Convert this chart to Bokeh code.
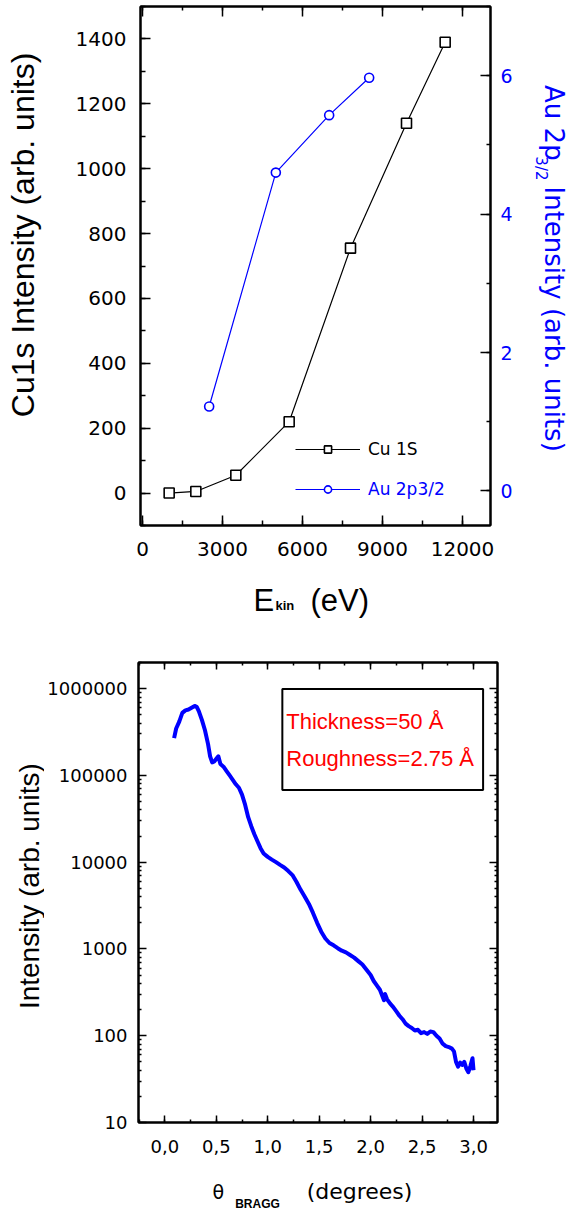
import math
from bokeh.plotting import figure
from bokeh.models import (Range1d, LinearAxis, LogAxis, SingleIntervalTicker, FixedTicker,
                          Legend, LegendItem, Label, BoxAnnotation)
from bokeh.layouts import column, row
from bokeh.embed import file_html
from bokeh.resources import INLINE

# ---------------- data: top chart ----------------
ekin_cu = [1000, 2000, 3500, 5500, 7800, 9900, 11350]
cu1s_intensity = [0, 5, 55, 220, 755, 1140, 1390]
ekin_au = [2500, 5000, 7000, 8500]
au2p_intensity = [1.22, 4.6, 5.43, 5.97]

# ---------------- data: bottom chart ----------------
theta_bragg = [0.09, 0.11, 0.14, 0.17, 0.20, 0.23, 0.26, 0.29, 0.31, 0.33,
               0.36, 0.39, 0.42, 0.44, 0.46, 0.48, 0.50, 0.52, 0.54, 0.57,
               0.60, 0.63, 0.66, 0.69, 0.72, 0.75, 0.78, 0.81, 0.84, 0.87,
               0.90, 0.93, 0.96, 1.00, 1.04, 1.08, 1.12, 1.16, 1.20, 1.24,
               1.28, 1.32, 1.36, 1.40, 1.44, 1.48, 1.52, 1.56, 1.60, 1.64,
               1.68, 1.72, 1.76, 1.80, 1.84, 1.88, 1.92, 1.96, 2.00, 2.03,
               2.06, 2.09, 2.11, 2.13, 2.14, 2.16, 2.19, 2.22, 2.25, 2.28,
               2.31, 2.34, 2.37, 2.40, 2.43, 2.46, 2.49, 2.52, 2.55, 2.58,
               2.61, 2.64, 2.67, 2.70, 2.73, 2.76, 2.79, 2.81, 2.83, 2.85,
               2.87, 2.89, 2.91, 2.93, 2.95, 2.97, 2.99, 3.00]
xrr_intensity = [269000, 347000, 417000, 525000, 562000, 575000, 603000, 631000, 617000, 550000,
                 437000, 331000, 229000, 166000, 141000, 145000, 155000, 166000, 135000, 126000,
                 112000, 100000, 89000, 79000, 72000, 60000, 46000, 33000, 26000, 21000,
                 17400, 14500, 12600, 11500, 10700, 10000, 9300, 8700, 7900, 7100,
                 5900, 4800, 4000, 3300, 2600, 2000, 1580, 1320, 1170, 1100,
                 1020, 955, 912, 851, 794, 724, 661, 575, 501, 427,
                 380, 339, 295, 257, 302, 263, 234, 214, 191, 170,
                 155, 138, 129, 123, 115, 117, 107, 110, 105, 112,
                 110, 100, 93, 81, 76, 74, 71, 66, 50, 44,
                 49, 46, 50, 42, 38, 45, 55, 40]

theta_tick_values = [0.0, 0.5, 1.0, 1.5, 2.0, 2.5, 3.0]
theta_tick_labels = ["0,0", "0,5", "1,0", "1,5", "2,0", "2,5", "3,0"]
intensity_tick_values = [10, 100, 1000, 10000, 100000, 1000000]
intensity_tick_labels = ["10", "100", "1000", "10000", "100000", "1000000"]

BLUE = "#0000ff"
RED = "#ff0000"
TICK_FONT = "DejaVu Sans"
LABEL_FONT = "Liberation Sans"


def style_axis(ax, major_in, minor_in, size, standoff, color="black", hide=False):
    ax.axis_line_width = 2
    ax.axis_line_color = "black"
    ax.major_tick_in = major_in
    ax.major_tick_out = 0
    ax.minor_tick_in = minor_in
    ax.minor_tick_out = 0
    ax.major_tick_line_width = 1.5
    ax.minor_tick_line_width = 1.5
    ax.major_tick_line_color = "black"
    ax.minor_tick_line_color = "black"
    ax.major_label_text_font = TICK_FONT
    ax.axis_label = None
    if hide:
        ax.major_label_text_font_size = "4px"
        ax.major_label_text_color = None
        ax.major_label_text_alpha = 0
        ax.major_label_standoff = 0
    else:
        ax.major_label_text_font_size = size
        ax.major_label_text_color = color
        ax.major_label_standoff = standoff


def text_fig(w, h):
    f = figure(width=w, height=h, x_range=Range1d(0, w), y_range=Range1d(0, h),
               output_backend="svg", toolbar_location=None, min_border=0,
               x_axis_location=None, y_axis_location=None)
    f.outline_line_color = None
    f.grid.visible = False
    return f


def tlabel(f, text, x, y, size, font=LABEL_FONT, color="black", angle=0.0,
           align="left", baseline="alphabetic", style="normal"):
    f.add_layout(Label(x=x, y=y, text=text, text_font=font, text_font_size=size,
                       text_color=color, angle=angle, text_align=align,
                       text_baseline=baseline, text_font_style=style))


TOP_H = 568
# ================= TOP FIGURE =================
p1 = figure(width=483, height=TOP_H, x_range=Range1d(-75, 13050), y_range=Range1d(-100, 1500),
            output_backend="svg", toolbar_location=None,
            min_border_left=95, min_border_right=38, min_border_top=6,
            min_border_bottom=TOP_H - 525)
p1.grid.visible = False
p1.outline_line_color = "black"
p1.outline_line_width = 2

p1.xaxis.ticker = SingleIntervalTicker(interval=3000, num_minor_ticks=2)
p1.yaxis.ticker = SingleIntervalTicker(interval=200, num_minor_ticks=2)
style_axis(p1.xaxis[0], 10, 5, "20px", 16)
style_axis(p1.yaxis[0], 10, 5, "20px", 14)

p1.extra_y_ranges = {"au": Range1d(-0.5, 7.0)}
ax_r = LinearAxis(y_range_name="au", ticker=SingleIntervalTicker(interval=2, num_minor_ticks=2))
style_axis(ax_r, 10, 4, "19px", 10, color=BLUE)
p1.add_layout(ax_r, "right")

ax_t = LinearAxis(ticker=SingleIntervalTicker(interval=3000, num_minor_ticks=2))
style_axis(ax_t, 10, 4, "0px", 0, hide=True)
p1.add_layout(ax_t, "above")

l_cu = p1.line(ekin_cu, cu1s_intensity, line_color="black", line_width=1.2)
s_cu = p1.scatter(ekin_cu, cu1s_intensity, marker="square", size=10, fill_color="white",
                  line_color="black", line_width=1.6)
l_au = p1.line(ekin_au, au2p_intensity, line_color=BLUE, line_width=1.2, y_range_name="au")
s_au = p1.scatter(ekin_au, au2p_intensity, marker="circle", size=9, fill_color="white",
                  line_color=BLUE, line_width=1.6, y_range_name="au")


def make_legend(label, renderers, loc, color):
    return Legend(items=[LegendItem(label=label, renderers=renderers)], location=loc,
                  glyph_width=65, glyph_height=18, label_height=18, label_standoff=8,
                  padding=0, margin=0, spacing=0, border_line_alpha=0,
                  background_fill_alpha=0, label_text_font=TICK_FONT,
                  label_text_font_size="17px", label_text_color=color)


p1.add_layout(make_legend("Cu 1S", [l_cu, s_cu], (155, 66), "black"))
p1.add_layout(make_legend("Au 2p3/2", [l_au, s_au], (155, 26), BLUE))

# side text panels of the top chart
fl1 = text_fig(45, TOP_H)
tlabel(fl1, "Cu1s Intensity (arb. units)", 22, TOP_H - 250, "32px", angle=math.pi / 2,
       align="center", baseline="middle")

fr1 = text_fig(44, TOP_H)
tlabel(fr1, "Au 2p", 25, TOP_H - 86, "26px", font=TICK_FONT, color=BLUE,
       angle=-math.pi / 2, baseline="middle")
tlabel(fr1, "3/2", 12, TOP_H - 164, "15px", font=TICK_FONT, color=BLUE,
       angle=-math.pi / 2, baseline="middle")
tlabel(fr1, "Intensity (arb. units)", 25, TOP_H - 197, "26px", font=TICK_FONT, color=BLUE,
       angle=-math.pi / 2, baseline="middle")

fe = text_fig(572, 620 - TOP_H)
tlabel(fe, "E", 253, 20, "31px")
tlabel(fe, "kin", 275, 15, "13px", style="bold")
tlabel(fe, "(eV)", 310, 20, "31px")

# ================= BOTTOM FIGURE =================
BOT_H = 545
p2 = figure(width=528, height=BOT_H, x_range=Range1d(-0.256, 3.233), y_range=Range1d(10, 2e6),
            y_axis_type="log", output_backend="svg", toolbar_location=None,
            min_border_left=94, min_border_right=75, min_border_top=42,
            min_border_bottom=BOT_H - 42 - 460)
p2.grid.visible = False
p2.outline_line_color = "black"
p2.outline_line_width = 2

minor_log = [m * 10 ** k for k in range(1, 7) for m in range(2, 10) if m * 10 ** k <= 2e6]
p2.xaxis.ticker = SingleIntervalTicker(interval=0.5, num_minor_ticks=2)
p2.xaxis.major_label_overrides = dict(zip(theta_tick_values, theta_tick_labels))
p2.yaxis.ticker = FixedTicker(ticks=intensity_tick_values, minor_ticks=minor_log)
p2.yaxis.major_label_overrides = dict(zip([float(v) for v in intensity_tick_values],
                                          intensity_tick_labels))
style_axis(p2.xaxis[0], 7, 3, "18px", 17)
style_axis(p2.yaxis[0], 8, 3, "18px", 11)

ax2_t = LinearAxis(ticker=SingleIntervalTicker(interval=0.5, num_minor_ticks=2))
style_axis(ax2_t, 7, 3, "0px", 0, hide=True)
p2.add_layout(ax2_t, "above")
ax2_r = LogAxis(ticker=FixedTicker(ticks=intensity_tick_values, minor_ticks=minor_log))
style_axis(ax2_r, 8, 3, "0px", 0, hide=True)
p2.add_layout(ax2_r, "right")

p2.line(theta_bragg, xrr_intensity, line_color=BLUE, line_width=4, line_join="round")

p2.add_layout(BoxAnnotation(left=1.142, right=3.093, bottom=6.8e4, top=9.9e5,
                            fill_color="white", fill_alpha=1.0, line_color="black",
                            line_width=2, line_alpha=1.0))
p2.add_layout(Label(x=1.18, y=4.17e5, text="Thickness=50 Å", text_color=RED,
                    text_font=LABEL_FONT, text_font_size="22px", text_baseline="middle"))
p2.add_layout(Label(x=1.18, y=1.58e5, text="Roughness=2.75 Å", text_color=RED,
                    text_font=LABEL_FONT, text_font_size="22px", text_baseline="middle"))

fl2 = text_fig(44, BOT_H)
tlabel(fl2, "Intensity (arb. units)", 29, BOT_H - 265, "28px", angle=math.pi / 2,
       align="center", baseline="middle")

ft = text_fig(572, 1209 - 620 - BOT_H)
tlabel(ft, "θ", 212, 18, "19px", font=TICK_FONT)
tlabel(ft, "BRAGG", 257, 6, "12px", align="center", style="bold")
tlabel(ft, "(degrees)", 359, 18, "22px", font=TICK_FONT, align="center")

layout = column(row(fl1, p1, fr1), fe, row(fl2, p2), ft)
open("out.html", "w").write(file_html(layout, INLINE))
